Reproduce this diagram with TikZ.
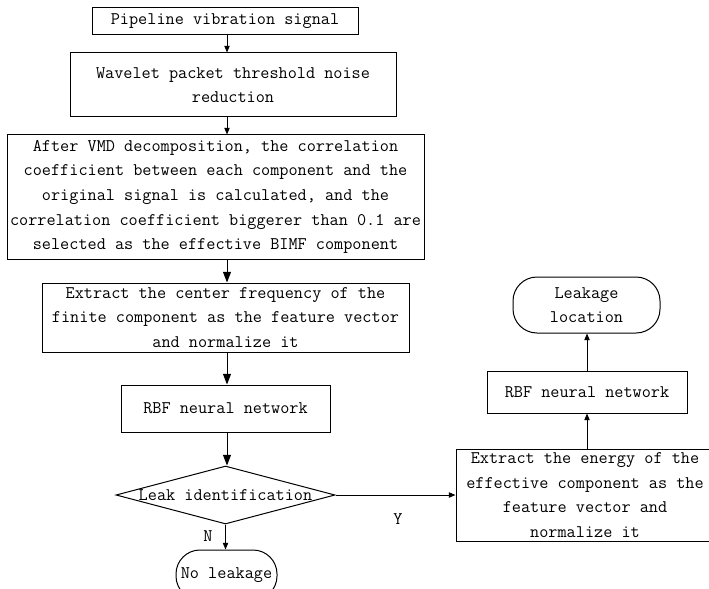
\documentclass[tikz,border=0pt]{standalone}
\usepackage{tikz}
\usetikzlibrary{arrows.meta,shapes.geometric}

\tikzset{
  txt/.style={font=\ttfamily\fontsize{13.3}{18.5}\selectfont, align=center, inner sep=0pt},
  procbox/.style={txt, draw, line width=0.75pt, rectangle},
  termbox/.style={txt, draw, line width=0.75pt, rectangle, rounded corners=18pt},
  decbox/.style={txt, draw, line width=0.75pt, diamond, aspect=1},
  flow/.style={line width=0.75pt, -{Triangle[length=5pt,width=4pt]}},
  bigflow/.style={line width=0.75pt, -{Triangle[length=8pt,width=6pt]}},
}

\begin{document}
\begin{tikzpicture}[x=0.75pt,y=0.75pt,yscale=-1,xscale=1]
\useasboundingbox (0,0) rectangle (709,588);

%Shape: Rectangle [signal]
\node (sig) at (225,21.5) [procbox, minimum width=199.5pt, minimum height=20.25pt] {Pipeline vibration signal};
%Shape: Rectangle [wavelet]
\node (wpt) at (233,85) [procbox, minimum width=244.5pt, minimum height=48pt] {Wavelet packet threshold noise\\reduction};
%Shape: Rectangle [vmd]
\node (vmd) at (215.5,197) [procbox, minimum width=312.75pt, minimum height=93pt] {After VMD decomposition, the correlation\\coefficient between each component and the\\original signal is calculated, and the\\correlation coefficient biggerer than 0.1 are\\selected as the effective BIMF component};
%Shape: Rectangle [feature]
\node (feat) at (225.5,317.5) [procbox, minimum width=275.25pt, minimum height=51.75pt] {Extract the center frequency of the\\finite component as the feature vector\\and normalize it};
%Shape: Rectangle [rbf]
\node (rbf) at (225.5,408.5) [procbox, minimum width=156.75pt, minimum height=35.25pt] {RBF neural network};
%Shape: Diamond [decision]
\node (leak) at (225.5,495) [decbox, minimum width=164.25pt, minimum height=43.5pt] {\makebox[0pt]{Leak identification}};
%Shape: Terminal [no leakage]
\node (nolk) at (226.5,575) [termbox, minimum width=75.75pt, minimum height=37.5pt] {No leakage};

%Shape: Rectangle [energy]
\node (energy) at (593,495) [procbox, minimum width=205.5pt, minimum height=69pt] {\hspace*{-12pt}Extract the energy of the\\\hspace*{-12pt}effective component as the\\\hspace*{-12pt}feature vector and\\\hspace*{-12pt}normalize it};
%Shape: Rectangle [rbf right]
\node (rbfr) at (587,392) [procbox, minimum width=150pt, minimum height=31.5pt] {RBF neural network};
%Shape: Terminal [location]
\node (loc) at (586.5,305) [termbox, minimum width=110.25pt, minimum height=42pt] {Leakage\\location};

% Text Node
\node (labN) at (208,536) [txt] {N};
% Text Node
\node (labY) at (398,519) [txt] {Y};

\coordinate (axis) at (227,0);

% Connectors
\draw [flow] (sig.south -| axis) -- (wpt.north -| axis);
\draw [flow] (wpt.south -| axis) -- (vmd.north -| axis);
\draw [bigflow] (vmd.south -| axis) -- (feat.north -| axis);
\draw [bigflow] (feat.south -| axis) -- (rbf.north -| axis);
\draw [bigflow] (rbf.south -| axis) -- (leak.north -| axis);
\draw [flow] (leak.south) -- (nolk.north -| leak.south);
\draw [flow] (leak.east) -- (energy.west);
\draw [flow] (rbfr.south |- energy.north) -- (rbfr.south);
\draw [flow] (rbfr.north) -- (loc.south -| rbfr.north);
\end{tikzpicture}
\end{document}
